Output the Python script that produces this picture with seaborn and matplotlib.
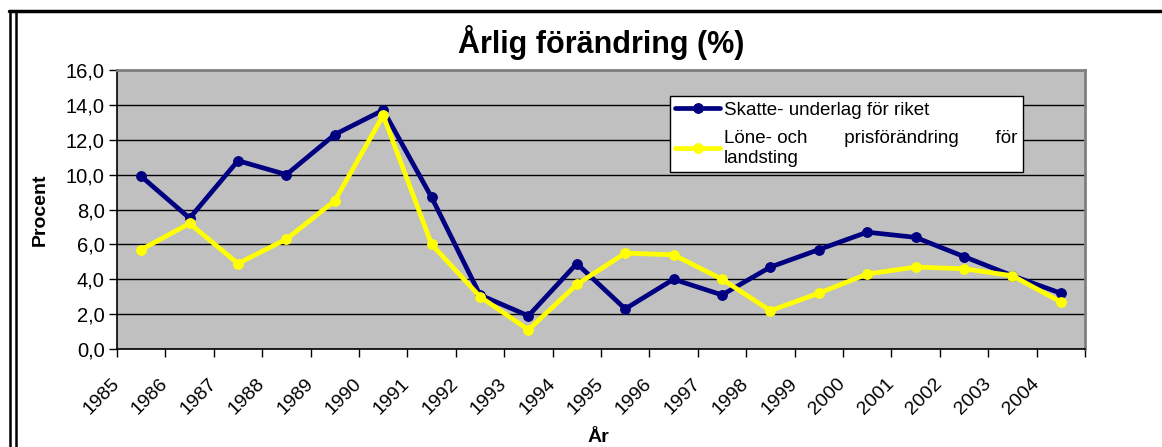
import matplotlib
matplotlib.use('Agg')
import matplotlib.pyplot as plt
import seaborn as sns
import numpy as np
import pandas as pd
from matplotlib.lines import Line2D

years = [str(y) for y in range(1985, 2005)]
skatte = [9.9, 7.5, 10.8, 10.0, 12.3, 13.7, 8.7, 3.1, 1.9, 4.9,
          2.3, 4.0, 3.1, 4.7, 5.7, 6.7, 6.4, 5.3, 4.2, 3.2]
lone = [5.7, 7.2, 4.9, 6.3, 8.5, 13.4, 6.0, 3.0, 1.1, 3.7,
        5.5, 5.4, 4.0, 2.2, 3.2, 4.3, 4.7, 4.6, 4.2, 2.7]
y_ticks = [0, 2, 4, 6, 8, 10, 12, 14, 16]

sns.set_style('white')
plt.rcParams['font.family'] = ['Liberation Sans', 'DejaVu Sans']
plt.rcParams['text.color'] = 'black'
plt.rcParams['axes.labelcolor'] = 'black'
plt.rcParams['xtick.color'] = 'black'
plt.rcParams['ytick.color'] = 'black'

W, H = 1162, 447
fig = plt.figure(figsize=(W / 100, H / 100), dpi=100)
ax = fig.add_axes([117 / W, 1 - 349 / H, (1085 - 117) / W, (349 - 70) / H])
ax.set_facecolor('#c0c0c0')

df = pd.DataFrame({'pos': np.arange(len(years)), 'skatte': skatte, 'lone': lone})
sns.lineplot(data=df, x='pos', y='skatte', ax=ax, color='#000080', linewidth=3.4,
             marker='o', markersize=7, markeredgecolor='#000080',
             label='Skatte- underlag för riket', zorder=3)
sns.lineplot(data=df, x='pos', y='lone', ax=ax, color='#ffff00', linewidth=3.4,
             marker='o', markersize=7, markeredgecolor='#ffff00',
             label='Löne- och       prisförändring       för\nlandsting', zorder=4)

ax.set_xlim(-0.5, len(years) - 0.5)
ax.set_ylim(0, 16)
ax.set_yticks(y_ticks)
ax.set_yticklabels([f'{v:.1f}'.replace('.', ',') for v in y_ticks], fontsize=14.5)
ax.yaxis.grid(True, color='black', linewidth=1)
ax.set_axisbelow(True)

bounds = np.arange(len(years) + 1) - 0.5
ax.set_xticks(bounds)
ax.set_xticklabels(years + [''], fontsize=14, rotation=45, ha='right',
                   va='center', rotation_mode='anchor')
ax.tick_params(axis='x', direction='out', length=6, width=1, color='black', pad=17)
ax.tick_params(axis='y', direction='out', length=6, width=1, color='black', pad=3)
ax.tick_params(bottom=True, left=True)

for s in ['left', 'bottom']:
    ax.spines[s].set_color('black')
    ax.spines[s].set_linewidth(1.2)
for s in ['top', 'right']:
    ax.spines[s].set_color('#808080')
    ax.spines[s].set_linewidth(2)

ax.set_xlabel('År', fontsize=14, fontweight='bold')
ax.xaxis.set_label_coords(0.497, -0.285)
ax.xaxis.label.set_va('top')
ax.set_ylabel('Procent', fontsize=14, fontweight='bold', labelpad=12)

ax.set_title('Årlig förändring (%)', fontsize=22, fontweight='bold', pad=12)

leg = ax.legend(loc='upper left', bbox_to_anchor=(0.571, 0.907), borderaxespad=0,
                fontsize=13.5, frameon=True, fancybox=False, framealpha=1,
                edgecolor='black', handlelength=2.4, handletextpad=0.2,
                borderpad=0.3, labelspacing=0.6)
leg.get_frame().set_linewidth(1)

# outer frame
fig.add_artist(Line2D([9 / W, 1], [1 - 11 / H, 1 - 11 / H], transform=fig.transFigure,
                      color='black', linewidth=2.5))
fig.add_artist(Line2D([10 / W, 10 / W], [0, 1 - 11 / H], transform=fig.transFigure,
                      color='black', linewidth=1.8))
fig.add_artist(Line2D([16 / W, 16 / W], [0, 1 - 11 / H], transform=fig.transFigure,
                      color='black', linewidth=1.8))

plt.savefig('out.png', dpi=100)
plt.close()
